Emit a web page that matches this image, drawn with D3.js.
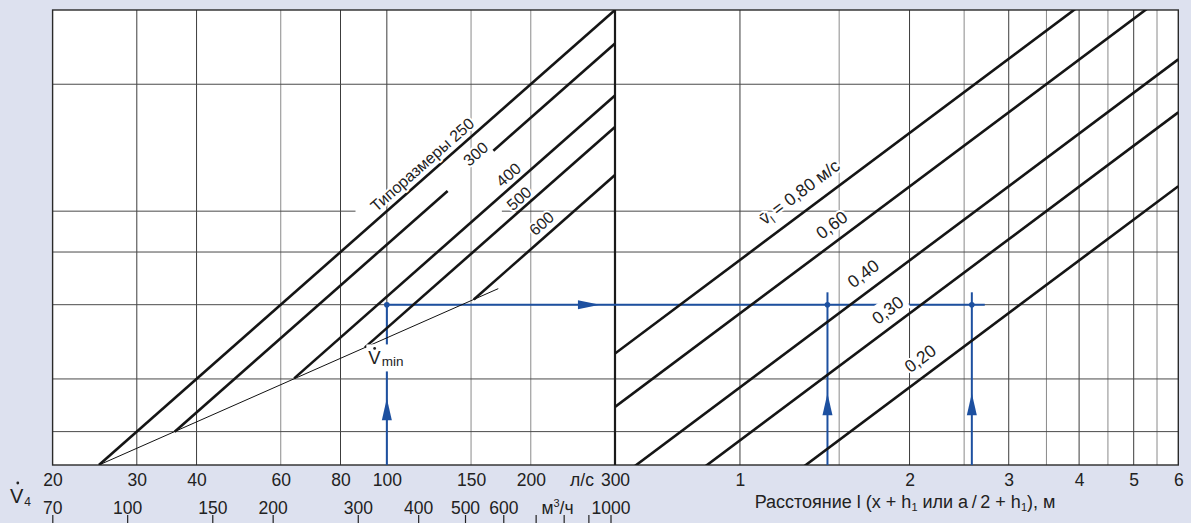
<!DOCTYPE html>
<html><head><meta charset="utf-8">
<script src="https://cdn.jsdelivr.net/npm/d3@7"></script>
<style>
html,body{margin:0;padding:0;background:#dde1ef;}
svg{display:block;font-family:"Liberation Sans",Arial,Helvetica,sans-serif;}
</style></head><body>
<svg id="c" width="1191" height="523"></svg>
<script>
// ---------------- data ----------------
const flowTicksLs   = [20,30,40,60,80,100,150,200,300];
const flowGridLs    = [30,40,60,80,100,150,200];
const flowGridDark  = [30,40,80,100];
const flowTicksM3h  = [70,100,150,200,300,400,500,600,700,800,900,1000];
const flowLabelsM3h = ["70","100","150","200","300","400","500","600","","","","1000"];
const distTicks     = [1,2,3,4,5,6];
const distGrid      = [1,1.5,2,2.5,3,3.5,4,4.5,5,5.5];
const distGridDark  = [1,2,3,4,5];
const yGrid         = [3,4,6,8,10,20];
const gridBreakY    = 10;          // ordinate line interrupted behind the size labels
const gridBreakV    = [86,174];    // l/s range of the interruption

const sizes       = ["250","300","400","500","600"];
const sizeYat100  = [10, 8.33, 6.27, 5.28, 4.06];   // ordinate of each size line at 100 l/s
const sizeStartV  = [25, 36, 64, 90, 152];           // l/s where each line leaves the V̇min line
const sizeLabelV  = [123, 158, 186, 195, 219];       // l/s where each label sits
const size300GapV = [134, 167];

const vminV = [25, 171];
const vminY = [2.5, 6.55];

const speeds      = ["0,80","0,60","0,40","0,30","0,20"];
const speedYat1   = [7.66, 5.72, 3.82, 2.86, 1.91];  // ordinate of each speed line at l = 1 m
const speedLabelL = [1.335, 1.513, 1.727, 1.901, 2.177];

const exampleV    = 100;           // l/s
const exampleY    = 6;             // ordinate of the example
const exampleL    = [1.43, 2.58];  // m
const exampleEndL = 2.72;
const arrowTipV   = 279;
const arrowTipYLeft  = 3.6;
const arrowTipYRight = 3.7;
const rightVertTopY  = 6.42;
const vminLabelAt    = [100, 4.33];

// ---------------- layout ----------------
const W=1191, H=523;
const pL=52.6, pR=1178.3, pT=10, pB=465, pM=615;
const xL = d3.scaleLog().domain([20,300]).range([pL, pM]);
const xM = d3.scaleLog().domain([70,1000]).range([52.3, 610.5]);
const xR = d3.scaleLog().domain([0.6,6]).range([pM, pR]);
const y  = d3.scaleLog().domain([2.5,30]).range([pB, pT]);

const INK="#222", BLUE="#1d50a0";
const FS=17.5;
const svg = d3.select("#c");
svg.append("rect").attr("width",W).attr("height",H).attr("fill","#dde1ef");
svg.append("rect").attr("x",pL).attr("y",pT).attr("width",pR-pL).attr("height",pB-pT).attr("fill","#fff");

const defs = svg.append("defs");
defs.append("clipPath").attr("id","clipL").append("rect")
  .attr("x",pL).attr("y",pT).attr("width",pM-pL).attr("height",pB-pT);
defs.append("clipPath").attr("id","clipR").append("rect")
  .attr("x",pM).attr("y",pT).attr("width",pR-pM).attr("height",pB-pT);

// ---------------- grid ----------------
const grid = svg.append("g");
grid.selectAll("line.vl").data(flowGridLs).join("line").attr("class","vl")
  .attr("x1",d=>xL(d)).attr("x2",d=>xL(d)).attr("y1",pT).attr("y2",pB)
  .attr("stroke",d=>flowGridDark.includes(d)?"#3c3c3c":"#8a8a8a").attr("stroke-width",1);
grid.selectAll("line.vr").data(distGrid).join("line").attr("class","vr")
  .attr("x1",d=>xR(d)).attr("x2",d=>xR(d)).attr("y1",pT).attr("y2",pB)
  .attr("stroke",d=>distGridDark.includes(d)?"#3c3c3c":"#8a8a8a").attr("stroke-width",1);
const hSegs = [];
yGrid.forEach(v=>{
  if (v===gridBreakY) {
    hSegs.push({v, x1:pL, x2:xL(gridBreakV[0])});
    hSegs.push({v, x1:xL(gridBreakV[1]), x2:pR});
  } else hSegs.push({v, x1:pL, x2:pR});
});
grid.selectAll("line.h").data(hSegs).join("line").attr("class","h")
  .attr("x1",d=>d.x1).attr("x2",d=>d.x2).attr("y1",d=>y(d.v)).attr("y2",d=>y(d.v))
  .attr("stroke","#4a4a4a").attr("stroke-width",1);

// frame
svg.append("rect").attr("x",pL).attr("y",pT).attr("width",pR-pL).attr("height",pB-pT)
  .attr("fill","none").attr("stroke","#2a2a2a").attr("stroke-width",1.4);
svg.append("line").attr("x1",pM).attr("x2",pM).attr("y1",pT).attr("y2",pB)
  .attr("stroke","#1a1a1a").attr("stroke-width",2.2);

// ---------------- blue example ----------------
const blue = svg.append("g");
const bx = xL(exampleV), by = y(exampleY);
blue.append("line").attr("x1",bx).attr("x2",bx).attr("y1",by).attr("y2",pB)
  .attr("stroke",BLUE).attr("stroke-width",2);
blue.append("line").attr("x1",bx).attr("x2",pM).attr("y1",by).attr("y2",by)
  .attr("stroke",BLUE).attr("stroke-width",2);
blue.append("line").attr("x1",pM).attr("x2",xR(exampleEndL)).attr("y1",by).attr("y2",by)
  .attr("stroke",BLUE).attr("stroke-width",2);
exampleL.forEach(l=>{
  blue.append("line").attr("x1",xR(l)).attr("x2",xR(l)).attr("y1",y(rightVertTopY)).attr("y2",pB)
    .attr("stroke",BLUE).attr("stroke-width",2);
});
function upArrow(x,ty){
  blue.append("path").attr("d",`M${x},${ty} L${x-5},${ty+22} L${x+5},${ty+22} Z`).attr("fill",BLUE);
}
upArrow(bx, y(arrowTipYLeft));
exampleL.forEach(l=>upArrow(xR(l), y(arrowTipYRight)));
const tx = xL(arrowTipV);
blue.append("path").attr("d",`M${tx},${by} L${tx-22},${by-4.5} L${tx-22},${by+4.5} Z`).attr("fill",BLUE);

// ---------------- size lines (left) ----------------
const gl = svg.append("g").attr("clip-path","url(#clipL)");
const lineL = d3.line().x(d=>xL(d[0])).y(d=>y(d[1]));
gl.append("path").attr("d",lineL(vminV.map((v,i)=>[v,vminY[i]])))
  .attr("fill","none").attr("stroke","#111").attr("stroke-width",1);
sizes.forEach((s,i)=>{
  const c = sizeYat100[i]/100;
  let segs;
  if (s==="300") segs=[[sizeStartV[i],size300GapV[0]],[size300GapV[1],300]];
  else segs=[[sizeStartV[i],300]];
  segs.forEach(([a,b])=>{
    gl.append("path").attr("d",lineL([[a,c*a],[b,c*b]]))
      .attr("fill","none").attr("stroke","#151515").attr("stroke-width",2.6);
  });
});

// ---------------- speed lines (right) ----------------
const gr = svg.append("g").attr("clip-path","url(#clipR)");
const lineR = d3.line().x(d=>xR(d[0])).y(d=>y(d[1]));
speeds.forEach((s,i)=>{
  const c = speedYat1[i];
  gr.append("path").attr("d",lineR([[0.6,c*0.6],[6,c*6]]))
    .attr("fill","none").attr("stroke","#151515").attr("stroke-width",2.6);
});

// dots
[[bx,by]].concat(exampleL.map(l=>[xR(l),by])).forEach(p=>{
  svg.append("circle").attr("cx",p[0]).attr("cy",p[1]).attr("r",2.8).attr("fill",BLUE);
});

// ---------------- rotated labels ----------------
function placeLabel(fx,fy,ux,uy,off,build,opts){
  const len=Math.hypot(ux,uy); ux/=len; uy/=len;
  const nx=uy, ny=-ux;               // normal pointing up-left
  const cx=fx+off*nx, cy=fy+off*ny;
  const ang=Math.atan2(uy,ux)*180/Math.PI;
  const g=svg.append("g").attr("transform",`translate(${cx},${cy}) rotate(${ang})`);
  const bg=g.append("rect").attr("fill","#fff");
  const t=g.append("text").attr("text-anchor","middle").attr("dy","0.36em")
    .attr("font-size",opts.fs).attr("fill",INK);
  build(t);
  if (opts.halo) t.attr("stroke","#fff").attr("stroke-width",opts.halo).attr("paint-order","stroke").attr("stroke-linejoin","round");
  if (opts.pad!=null){
    const bb=t.node().getBBox();
    bg.attr("x",bb.x-opts.pad).attr("y",bb.y-opts.pad*0.5).attr("width",bb.width+2*opts.pad).attr("height",bb.height+opts.pad);
  } else bg.remove();
}
const leftOff=[11.7,9.5,11.3,10,12.4];
sizes.forEach((s,i)=>{
  const c=sizeYat100[i]/100, v=sizeLabelV[i];
  const ux=xL(300)-xL(100), uy=y(c*300)-y(c*100);
  placeLabel(xL(v), y(c*v), ux, uy, leftOff[i], t=>{
    t.text(i===0 ? "Типоразмеры "+s : s);
  }, {fs:16, halo:4});
});
const rightOff=[19,16,17.4,16,17];
speeds.forEach((s,i)=>{
  const c=speedYat1[i], l=speedLabelL[i];
  const ux=xR(6)-xR(1), uy=y(c*6)-y(c*1);
  placeLabel(xR(l), y(c*l), ux, uy, rightOff[i], t=>{
    if (i===0){
      t.append("tspan").text("v\u0304");
      t.append("tspan").attr("font-size",11).attr("dy",4).text("l");
      t.append("tspan").attr("dy",-4).text(" = "+s+" м/с");
    } else t.text(s);
  }, i===3 ? {fs:17.5, pad:3} : {fs:17.5, halo:4});
});

// V̇min label
(function(){
  const x0 = xL(vminLabelAt[0]) - 18.5, yb = y(vminLabelAt[1]);
  const g = svg.append("g");
  const r = g.append("rect").attr("fill","#fff");
  const t = g.append("text").attr("x",x0).attr("y",yb).attr("fill",INK).attr("font-size",18.5);
  t.append("tspan").text("V");
  t.append("tspan").attr("font-size",13.5).attr("dx",1).attr("dy",2).text("min");
  const bb=t.node().getBBox();
  r.attr("x",bb.x-2).attr("y",yb-20).attr("width",bb.width+4).attr("height",27);
  g.append("circle").attr("cx",x0+6.3).attr("cy",yb-16).attr("r",1.4).attr("fill",INK);
})();

// ---------------- bottom axes ----------------
const ax1 = svg.append("g").attr("transform",`translate(0,${pB})`)
  .call(d3.axisBottom(xL).tickValues(flowTicksLs).tickFormat(d3.format("d")).tickSize(0).tickPadding(8.6));
const ax2 = svg.append("g").attr("transform",`translate(0,${pB})`)
  .call(d3.axisBottom(xR).tickValues(distTicks).tickFormat(d3.format("d")).tickSize(0).tickPadding(8.6));
[ax1,ax2].forEach(a=>{
  a.select(".domain").remove();
  a.selectAll("text").attr("font-size",FS).attr("fill",INK).attr("font-family",null);
});
const ax3 = svg.append("g").attr("transform","translate(0,515)")
  .call(d3.axisBottom(xM).tickValues(flowTicksM3h).tickFormat((d,i)=>flowLabelsM3h[i]).tickSize(9));
ax3.select(".domain").remove();
ax3.selectAll("line").attr("stroke","#222").attr("stroke-width",1.2);
ax3.selectAll("text").attr("y",-1).attr("dy",0).attr("font-size",FS).attr("fill",INK).attr("font-family",null);

svg.append("text").attr("x",582).attr("y",486).attr("text-anchor","middle").attr("font-size",FS).attr("fill",INK).text("л/с");
const m3 = svg.append("text").attr("x",557.5).attr("y",514).attr("text-anchor","middle").attr("font-size",FS).attr("fill",INK);
m3.append("tspan").text("м");
m3.append("tspan").attr("font-size",11).attr("dy",-7).text("3");
m3.append("tspan").attr("dy",7).text("/ч");

const dist = svg.append("text").attr("x",905).attr("y",508).attr("text-anchor","middle").attr("font-size",18).attr("fill",INK);
dist.append("tspan").text("Расстояние l (x + h");
dist.append("tspan").attr("font-size",11).attr("dy",3).text("1");
dist.append("tspan").attr("dy",-3).text(" или a\u2009/\u20092 + h");
dist.append("tspan").attr("font-size",11).attr("dy",3).text("1");
dist.append("tspan").attr("dy",-3).text("), м");

// V̇4
const v4 = svg.append("text").attr("x",10).attr("y",503).attr("font-size",20).attr("fill",INK);
v4.append("tspan").text("V");
v4.append("tspan").attr("font-size",12).attr("dx",1).attr("dy",3).text("4");
svg.append("circle").attr("cx",17.8).attr("cy",483).attr("r",1.4).attr("fill",INK);
</script>
</body></html>
